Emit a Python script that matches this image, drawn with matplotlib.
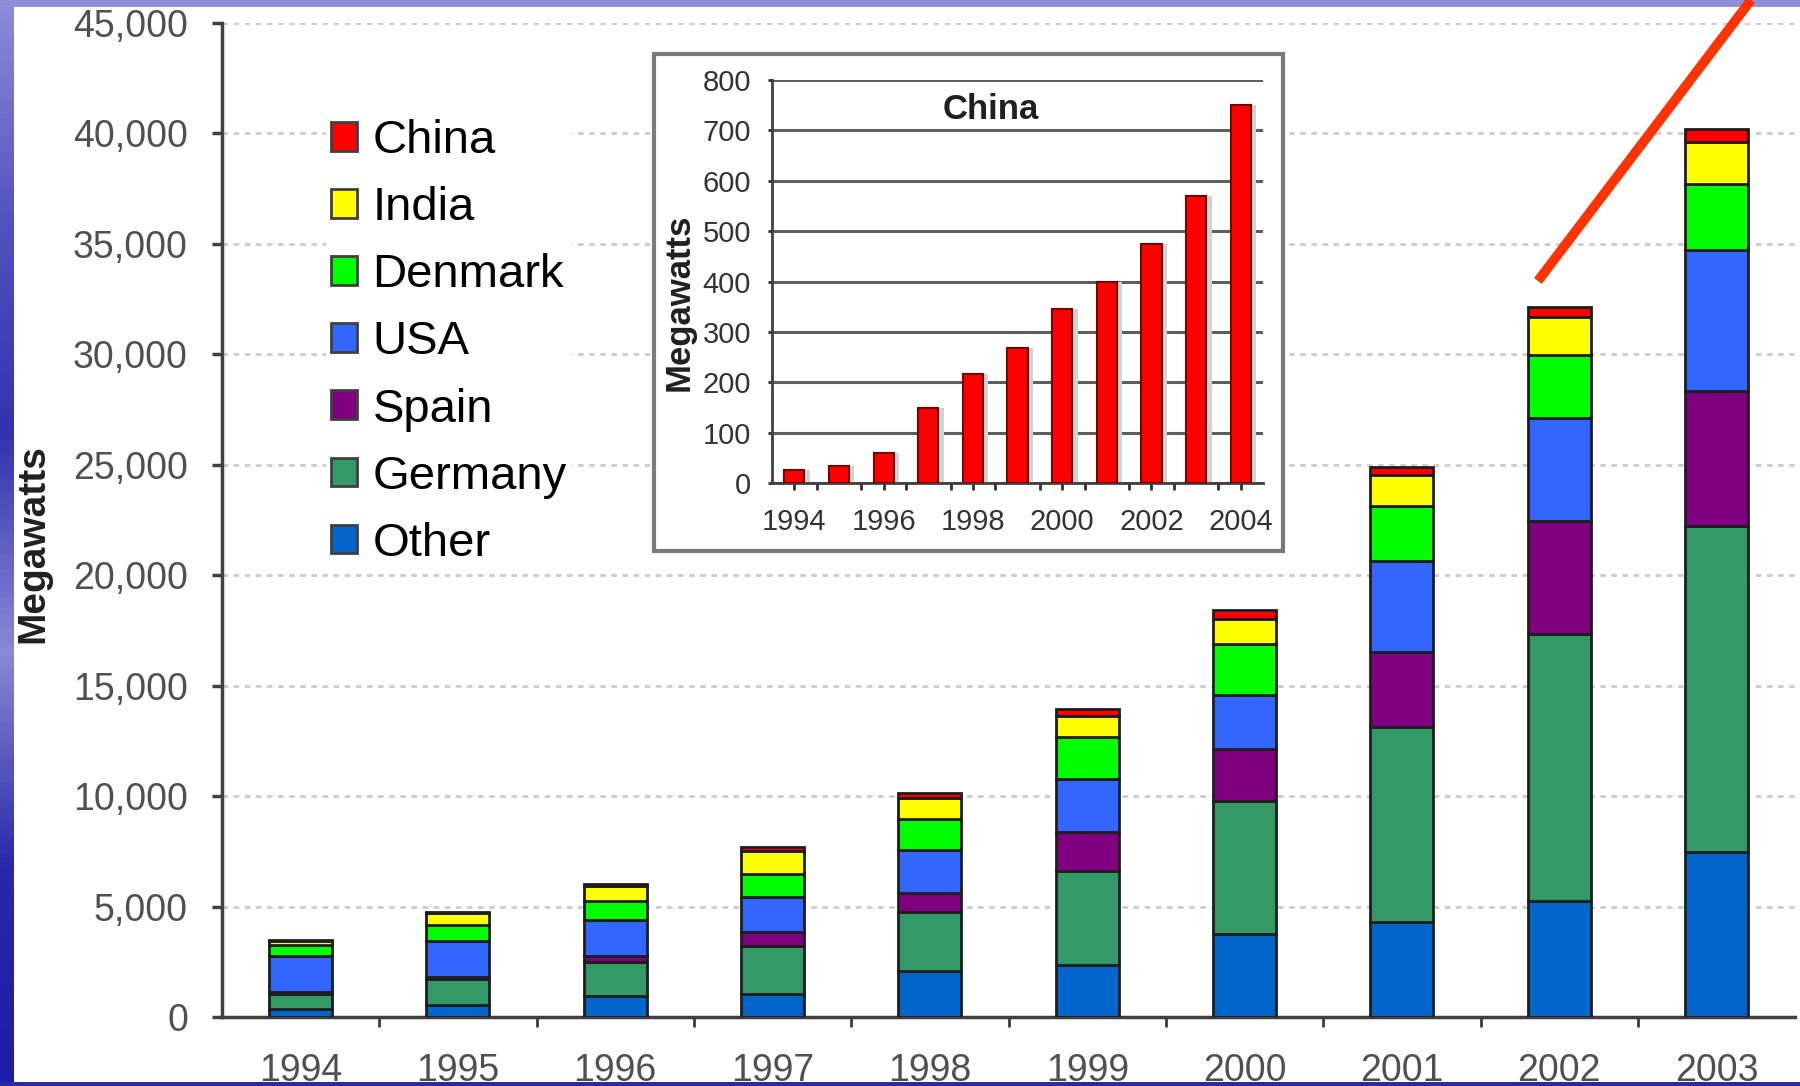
import numpy as np
import matplotlib
matplotlib.use("Agg")
import matplotlib.pyplot as plt
from matplotlib.patches import Patch, Rectangle
from matplotlib.lines import Line2D
from matplotlib.colors import LinearSegmentedColormap

plt.rcParams['font.family'] = ['Liberation Sans', 'DejaVu Sans']

# installed wind capacity by country, MW
years = ['1994', '1995', '1996', '1997', '1998', '1999', '2000', '2001', '2002', '2003']
other = [350, 530, 950, 1040, 2100, 2350, 3760, 4320, 5270, 7470]
germany = [700, 1200, 1550, 2190, 2640, 4270, 6030, 8820, 12050, 14740]
spain = [70, 100, 250, 600, 870, 1740, 2340, 3390, 5150, 6120]
usa = [1640, 1630, 1650, 1610, 1960, 2410, 2440, 4100, 4650, 6380]
denmark = [480, 700, 850, 1030, 1390, 1890, 2340, 2500, 2850, 3000]
india = [210, 550, 700, 1060, 950, 970, 1100, 1400, 1720, 1900]
china = [30, 40, 60, 150, 220, 300, 400, 350, 470, 600]

# china alone, inset
china_years = ['1994', '1995', '1996', '1997', '1998', '1999', '2000', '2001', '2002', '2003', '2004']
china_mw = [26, 34, 60, 148, 216, 268, 345, 400, 475, 569, 750]

series = [('Other', other, '#0066CC'),
          ('Germany', germany, '#339966'),
          ('Spain', spain, '#800080'),
          ('USA', usa, '#3366FF'),
          ('Denmark', denmark, '#00FF00'),
          ('India', india, '#FFFF00'),
          ('China', china, '#FF0000')]

fig = plt.figure(figsize=(18, 10.86), dpi=100)
fig.patch.set_facecolor('white')

ax = fig.add_axes([0.1233, 0.0635, 0.874, 0.9153])
x = np.arange(len(years))
bottom = np.zeros(len(years))
for name, vals, col in series:
    ax.bar(x, vals, 0.4, bottom=bottom, color=col, edgecolor='#1e1e1e',
           linewidth=2, zorder=3)
    bottom += np.array(vals)

ax.set_xlim(-0.5, len(years) - 0.5)
ax.set_ylim(0, 45000)
ax.set_yticks(np.arange(0, 45001, 5000))
ax.set_yticklabels(['{:,}'.format(v) for v in range(0, 45001, 5000)])
ax.set_xticks(x)
ax.set_xticklabels(years)
ax.set_xticks(np.arange(0.5, len(years) - 0.5, 1), minor=True)
ax.tick_params(axis='x', which='major', length=0, pad=26, labelsize=27, labelcolor='#505050')
ax.tick_params(axis='x', which='minor', length=7, width=2, color='#404040', direction='out')
ax.tick_params(axis='y', length=7, width=2.5, color='#404040', pad=17.5, labelsize=27,
               labelcolor='#505050')
ax.yaxis.grid(True, linestyle=(0, (2, 2)), color='#cccccc', linewidth=2, zorder=0)
ax.set_axisbelow(True)
for s in ['top', 'right']:
    ax.spines[s].set_visible(False)
for s in ['left', 'bottom']:
    ax.spines[s].set_color('#404040')
    ax.spines[s].set_linewidth(2.5)
ax.set_ylabel('Megawatts', fontsize=28, fontweight='bold', color='#202020')
ax.yaxis.set_label_coords(-0.1087, 0.476)

handles = [Patch(facecolor=col, edgecolor='#404040', linewidth=2, label=name)
           for name, vals, col in reversed(series)]
leg = ax.legend(handles=handles, loc='upper left', bbox_to_anchor=(0.051, 0.932),
                fontsize=34, frameon=True, framealpha=1, edgecolor='none',
                facecolor='white', handlelength=0.56, handleheight=0.56,
                handletextpad=0.33, labelspacing=0.49, borderpad=0.1,
                fancybox=False)
leg.set_zorder(4)

# inset frame
fig.patches.append(Rectangle((0.3633, 0.4926), 0.3494, 0.4576, transform=fig.transFigure,
                             facecolor='white', edgecolor='#7a7a7a', linewidth=3, zorder=1))

axi = fig.add_axes([0.4289, 0.5552, 0.2728, 0.3711])
axi.set_zorder(2)
axi.patch.set_alpha(0)
xi = np.arange(len(china_years))
axi.bar(xi + 0.12, china_mw, 0.45, color='#c8d8d8', zorder=2)
axi.bar(xi, china_mw, 0.45, color='#FF0000', edgecolor='#7a0000', linewidth=1.5, zorder=3)
axi.set_xlim(-0.5, len(china_years) - 0.5)
axi.set_ylim(0, 800)
axi.set_yticks(np.arange(0, 801, 100))
axi.set_xticks(xi[::2])
axi.set_xticklabels(china_years[::2])
axi.set_xticks(np.arange(0.5, len(china_years) - 0.5, 1), minor=True)
axi.tick_params(axis='x', which='major', length=5, width=2, color='#303030', pad=13,
                labelsize=21, labelcolor='#333333')
axi.tick_params(axis='x', which='minor', length=5, width=2, color='#303030')
axi.tick_params(axis='y', length=3, width=2, color='#303030', pad=12, labelsize=21,
                labelcolor='#333333')
axi.yaxis.grid(True, color='#5e5e5e', linewidth=2.2, zorder=1)
axi.set_axisbelow(True)
for s in ['top', 'right']:
    axi.spines[s].set_visible(False)
for s in ['left', 'bottom']:
    axi.spines[s].set_color('#404040')
    axi.spines[s].set_linewidth(2)
axi.set_ylabel('Megawatts', fontsize=25, fontweight='bold', color='#202020')
axi.yaxis.set_label_coords(-0.155, 0.449)
axi.text(0.446, 0.928, 'China', transform=axi.transAxes, ha='center', va='center',
         fontsize=25, fontweight='bold', color='#202020')

# slide background edges
cmap = LinearSegmentedColormap.from_list('edge', ['#8c8cd8', '#5252c0', '#3232b0', '#8a8ad6',
                                                  '#2828aa', '#1c1ca6'])
band = fig.add_axes([0, 0, 14 / 1800, 1])
band.imshow(np.linspace(0, 1, 200).reshape(-1, 1)[::-1], cmap=cmap, aspect='auto',
            extent=[0, 1, 0, 1], origin='lower')
band.set_axis_off()
band.set_zorder(5)
fig.patches.append(Rectangle((0, 1 - 7 / 1086), 1, 7 / 1086, transform=fig.transFigure,
                             facecolor='#9090d8', edgecolor='none', zorder=6))
fig.patches.append(Rectangle((0, 0), 1, 4 / 1086, transform=fig.transFigure,
                             facecolor='#2a2aa8', edgecolor='none', zorder=6))

fig.lines.append(Line2D([0.8544, 0.9728], [0.7413, 1.0], transform=fig.transFigure,
                        color='#FF3300', linewidth=7, solid_capstyle='butt', zorder=7))

fig.savefig('out.png', dpi=100)
